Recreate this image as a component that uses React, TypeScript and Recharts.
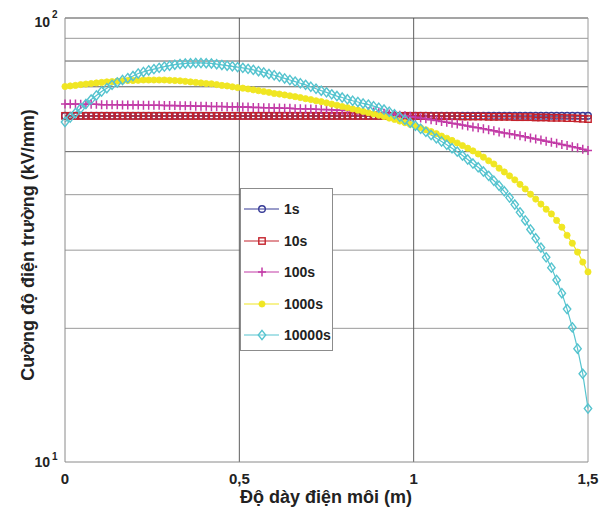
import React from 'react';
import { LineChart, Line, XAxis, YAxis, ReferenceLine } from 'recharts';

// x positions (m), one every 0.015
const xs = [
  0, 0.015, 0.03, 0.045, 0.06, 0.075, 0.09, 0.105, 0.12, 0.135,
  0.15, 0.165, 0.18, 0.195, 0.21, 0.225, 0.24, 0.255, 0.27, 0.285,
  0.3, 0.315, 0.33, 0.345, 0.36, 0.375, 0.39, 0.405, 0.42, 0.435,
  0.45, 0.465, 0.48, 0.495, 0.51, 0.525, 0.54, 0.555, 0.57, 0.585,
  0.6, 0.615, 0.63, 0.645, 0.66, 0.675, 0.69, 0.705, 0.72, 0.735,
  0.75, 0.765, 0.78, 0.795, 0.81, 0.825, 0.84, 0.855, 0.87, 0.885,
  0.9, 0.915, 0.93, 0.945, 0.96, 0.975, 0.99, 1.005, 1.02, 1.035,
  1.05, 1.065, 1.08, 1.095, 1.11, 1.125, 1.14, 1.155, 1.17, 1.185,
  1.2, 1.215, 1.23, 1.245, 1.26, 1.275, 1.29, 1.305, 1.32, 1.335,
  1.35, 1.365, 1.38, 1.395, 1.41, 1.425, 1.44, 1.455, 1.47, 1.485,
  1.5,
];

// field strength (kV/mm)
const s1 = [
  60.2, 60.2, 60.2, 60.2, 60.2, 60.2, 60.2, 60.2, 60.2, 60.2,
  60.2, 60.2, 60.2, 60.2, 60.2, 60.2, 60.2, 60.2, 60.2, 60.2,
  60.2, 60.2, 60.2, 60.2, 60.2, 60.2, 60.2, 60.2, 60.2, 60.2,
  60.2, 60.2, 60.2, 60.2, 60.2, 60.2, 60.2, 60.2, 60.2, 60.2,
  60.2, 60.2, 60.2, 60.2, 60.2, 60.2, 60.2, 60.2, 60.2, 60.2,
  60.2, 60.2, 60.2, 60.2, 60.2, 60.2, 60.2, 60.2, 60.2, 60.2,
  60.2, 60.2, 60.2, 60.2, 60.2, 60.2, 60.2, 60.2, 60.2, 60.2,
  60.2, 60.2, 60.2, 60.2, 60.2, 60.2, 60.2, 60.2, 60.2, 60.2,
  60.2, 60.2, 60.2, 60.2, 60.2, 60.2, 60.2, 60.2, 60.2, 60.2,
  60.2, 60.2, 60.2, 60.2, 60.2, 60.2, 60.2, 60.2, 60.2, 60.2,
  60.2,
];

const s10 = [
  60.2, 60.2, 60.2, 60.2, 60.2, 60.2, 60.2, 60.2, 60.2, 60.2,
  60.2, 60.2, 60.2, 60.2, 60.2, 60.2, 60.2, 60.2, 60.2, 60.2,
  60.2, 60.2, 60.2, 60.2, 60.2, 60.2, 60.2, 60.2, 60.2, 60.2,
  60.2, 60.2, 60.2, 60.2, 60.2, 60.2, 60.2, 60.2, 60.2, 60.2,
  60.2, 60.2, 60.2, 60.2, 60.2, 60.2, 60.2, 60.2, 60.2, 60.2,
  60.2, 60.2, 60.2, 60.2, 60.2, 60.2, 60.2, 60.2, 60.2, 60.2,
  60.2, 60.2, 60.2, 60.2, 60.2, 60.2, 60.2, 60.2, 60.2, 60.2,
  60.1, 60.1, 60.1, 60.1, 60.1, 60.1, 60.0, 60.0, 60.0, 60.0,
  60.0, 59.9, 59.9, 59.9, 59.9, 59.9, 59.8, 59.8, 59.8, 59.8,
  59.7, 59.7, 59.7, 59.6, 59.6, 59.6, 59.5, 59.5, 59.4, 59.3,
  59.2,
];

const s100 = [
  64.0, 64.0, 64.0, 63.9, 63.9, 63.9, 63.9, 63.8, 63.8, 63.8,
  63.8, 63.7, 63.7, 63.7, 63.7, 63.6, 63.6, 63.6, 63.6, 63.5,
  63.5, 63.5, 63.4, 63.4, 63.4, 63.3, 63.3, 63.3, 63.2, 63.2,
  63.2, 63.1, 63.1, 63.1, 63.0, 63.0, 62.9, 62.9, 62.8, 62.8,
  62.7, 62.7, 62.6, 62.6, 62.5, 62.5, 62.4, 62.4, 62.3, 62.2,
  62.2, 62.1, 62.0, 62.0, 61.9, 61.8, 61.7, 61.6, 61.5, 61.4,
  61.2, 61.0, 60.8, 60.6, 60.4, 60.2, 60.0, 59.8, 59.5, 59.3,
  59.0, 58.8, 58.5, 58.2, 57.9, 57.7, 57.4, 57.1, 56.8, 56.6,
  56.3, 56.0, 55.7, 55.4, 55.1, 54.9, 54.6, 54.3, 54.0, 53.7,
  53.4, 53.1, 52.8, 52.5, 52.2, 51.9, 51.6, 51.3, 51.0, 50.6,
  50.3,
];

const s1000 = [
  70.1, 70.3, 70.5, 70.8, 71.0, 71.2, 71.4, 71.6, 71.8, 71.9,
  72.1, 72.2, 72.3, 72.3, 72.4, 72.5, 72.5, 72.5, 72.5, 72.5,
  72.4, 72.3, 72.2, 72.0, 71.8, 71.6, 71.4, 71.2, 71.1, 70.8,
  70.5, 70.3, 70.0, 69.7, 69.5, 69.2, 68.9, 68.6, 68.3, 68.0,
  67.6, 67.4, 67.1, 66.8, 66.5, 66.2, 65.8, 65.5, 65.1, 64.8,
  64.4, 64.0, 63.6, 63.2, 62.8, 62.4, 62.0, 61.6, 61.2, 60.8,
  60.4, 60.0, 59.5, 59.1, 58.6, 58.1, 57.6, 57.1, 56.6, 56.0,
  55.5, 54.9, 54.2, 53.6, 53.0, 52.3, 51.6, 50.9, 50.2, 49.4,
  48.6, 47.7, 46.9, 45.9, 45.0, 44.1, 43.2, 42.2, 41.2, 40.1,
  39.1, 38.1, 37.1, 36.2, 35.0, 33.8, 32.4, 31.1, 29.7, 28.2,
  26.8,
];

const s10000 = [
  58.3, 59.7, 61.1, 62.6, 64.0, 65.5, 66.9, 68.3, 69.5, 70.7,
  71.6, 72.5, 73.2, 74.0, 75.0, 75.6, 76.2, 76.7, 77.2, 77.7,
  78.1, 78.5, 78.8, 79.0, 79.1, 79.2, 79.2, 79.1, 79.0, 78.7,
  78.4, 78.1, 77.8, 77.5, 77.2, 76.8, 76.4, 75.9, 75.4, 74.8,
  74.3, 73.7, 73.1, 72.5, 71.9, 71.3, 70.7, 70.0, 69.3, 68.6,
  68.0, 67.3, 66.7, 66.2, 65.6, 65.1, 64.7, 64.2, 63.8, 63.3,
  62.8, 62.2, 61.5, 60.7, 59.9, 59.0, 58.1, 57.2, 56.3, 55.4,
  54.5, 53.6, 52.7, 51.8, 50.9, 50.0, 49.0, 48.0, 47.0, 46.1,
  45.1, 44.1, 43.0, 41.9, 40.7, 39.4, 38.0, 36.5, 35.0, 33.4,
  31.9, 30.4, 28.9, 27.4, 25.7, 24.0, 22.1, 20.1, 18.0, 15.8,
  13.2,
];

const xTicks = [0, 0.5, 1, 1.5];
const yTicks = [10, 100];
const gridDark = [50, 70, 80];
const gridLight = [20, 30, 40, 60, 90];
const gridX = [0.5, 1];

const series = [
  { key: 's1', name: '1s', values: s1, color: '#363a96', marker: 'circle' },
  { key: 's10', name: '10s', values: s10, color: '#c4222c', marker: 'square' },
  { key: 's100', name: '100s', values: s100, color: '#c23aa6', marker: 'plus' },
  { key: 's1000', name: '1000s', values: s1000, color: '#f0e622', marker: 'dot' },
  { key: 's10000', name: '10000s', values: s10000, color: '#56c4cf', marker: 'diamond' },
];

const data = xs.map((x, i) => {
  const row: any = { x };
  series.forEach((s) => { row[s.key] = s.values[i]; });
  return row;
});

const FONT = '"Liberation Sans", Arial, Helvetica, sans-serif';
const PLOT_LEFT = 65;
const PLOT_BOTTOM = 462;

const Marker = ({ type, cx, cy, color }: any) => {
  if (cx == null || cy == null) return null;
  switch (type) {
    case 'circle':
      return <circle cx={cx} cy={cy} r={3.3} fill="none" stroke={color} strokeWidth={1.4} />;
    case 'square':
      return <rect x={cx - 3.2} y={cy - 3.2} width={6.4} height={6.4} fill="none" stroke={color} strokeWidth={1.4} />;
    case 'plus':
      return <path d={`M${cx - 4},${cy}H${cx + 4}M${cx},${cy - 4.5}V${cy + 4.5}`} stroke={color} strokeWidth={1.5} fill="none" />;
    case 'dot':
      return <circle cx={cx} cy={cy} r={3.1} fill={color} stroke={color} strokeWidth={0.8} />;
    case 'diamond':
      return <path d={`M${cx},${cy - 4.6}L${cx + 3.7},${cy}L${cx},${cy + 4.6}L${cx - 3.7},${cy}Z`} fill="none" stroke={color} strokeWidth={1.4} />;
    default:
      return null;
  }
};

const YTick = ({ y, payload }: any) => {
  const exp = Math.round(Math.log10(payload.value));
  const top = payload.value === 100;
  return (
    <g fontFamily={FONT} fontWeight="bold" fill="#222">
      <text x={PLOT_LEFT - 15} y={y + (top ? 9 : 5)} textAnchor="end" fontSize={14}>10</text>
      <text x={PLOT_LEFT - 13} y={y + (top ? 0 : -2)} textAnchor="start" fontSize={10}>{exp}</text>
    </g>
  );
};

const XTick = ({ x, payload }: any) => (
  <text x={x} y={PLOT_BOTTOM + 22} textAnchor="middle" fontFamily={FONT} fontWeight="bold" fontSize={15} fill="#222">
    {String(payload.value).replace('.', ',')}
  </text>
);

// legend box drawn over the plot, as in the original figure
const LegendBox = () => (
  <div
    style={{
      position: 'absolute',
      left: 240,
      top: 188,
      width: 93,
      height: 163,
      boxSizing: 'border-box',
      border: '1px solid #8c8c8c',
      background: '#fff',
      fontFamily: FONT,
      fontWeight: 'bold',
      fontSize: 14,
      color: '#222',
    }}
  >
    {series.map((s, i) => (
      <div key={s.key} style={{ position: 'absolute', left: 2, top: 11 + i * 31.5, height: 18, display: 'flex', alignItems: 'center' }}>
        <svg width={38} height={18}>
          <line x1={1} y1={9} x2={36} y2={9} stroke={s.color} strokeWidth={1.2} />
          <Marker type={s.marker} cx={19} cy={9} color={s.color} />
        </svg>
        <span style={{ marginLeft: 3 }}>{s.name}</span>
      </div>
    ))}
  </div>
);

export default function App() {
  return (
    <div style={{ position: 'absolute', left: 0, top: 0, width: 605, height: 514, background: '#fff' }}>
      <LineChart width={605} height={514} data={data} margin={{ top: 18, right: 17, bottom: 0, left: 0 }}>
        {gridLight.map((v) => (
          <ReferenceLine key={'gl' + v} y={v} stroke="#9a9a9a" strokeWidth={1} />
        ))}
        {gridDark.map((v) => (
          <ReferenceLine key={'gd' + v} y={v} stroke="#5e5e5e" strokeWidth={1} />
        ))}
        {gridX.map((v) => (
          <ReferenceLine key={'gx' + v} x={v} stroke="#5e5e5e" strokeWidth={1} />
        ))}
        <ReferenceLine y={100} stroke="#4a4a4a" strokeWidth={1} />
        <ReferenceLine x={1.5} stroke="#9a9a9a" strokeWidth={1} />
        <XAxis
          dataKey="x"
          type="number"
          domain={[0, 1.5]}
          ticks={xTicks}
          tickLine={false}
          axisLine={{ stroke: '#8a8a8a' }}
          height={52}
          tick={<XTick />}
          label={() => (
            <text x={326} y={503} textAnchor="middle" fontFamily={FONT} fontWeight="bold" fontSize={18} fill="#222">
              Độ dày điện môi (m)
            </text>
          )}
        />
        <YAxis
          type="number"
          scale="log"
          domain={[10, 100]}
          ticks={yTicks}
          allowDataOverflow
          tickLine={false}
          axisLine={{ stroke: '#8a8a8a' }}
          width={65}
          tick={<YTick />}
          label={() => (
            <text
              x={28}
              y={245}
              transform="rotate(-90, 28, 245)"
              textAnchor="middle"
              dominantBaseline="central"
              fontFamily={FONT}
              fontWeight="bold"
              fontSize={18}
              fill="#222"
            >
              Cường độ điện trường (kV/mm)
            </text>
          )}
        />
        {series.map((s) => (
          <Line
            key={s.key}
            dataKey={s.key}
            name={s.name}
            type="linear"
            stroke={s.color}
            strokeWidth={1.2}
            isAnimationActive={false}
            dot={(p: any) => <Marker key={s.key + p.index} type={s.marker} cx={p.cx} cy={p.cy} color={s.color} />}
            activeDot={false}
          />
        ))}
      </LineChart>
      <LegendBox />
    </div>
  );
}
